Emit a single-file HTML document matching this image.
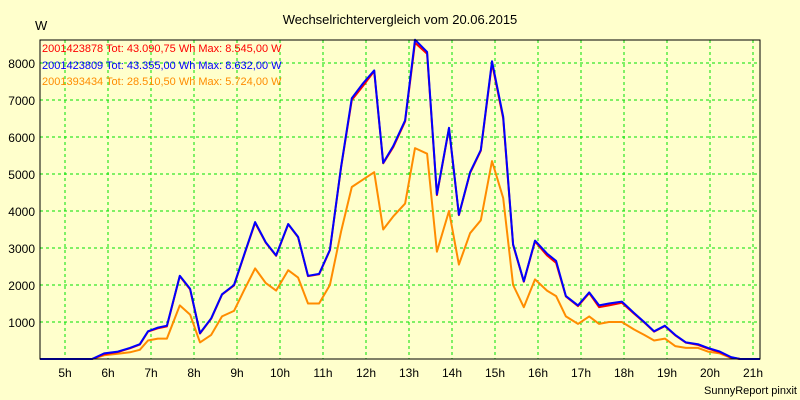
<!DOCTYPE html>
<html><head><meta charset="utf-8"><style>
body{margin:0;background:#ffffcc;}
svg{display:block;font-family:"Liberation Sans",sans-serif;}
</style></head><body>
<svg id="c" width="800" height="400">
<rect width="800" height="400" fill="#ffffcc"/>
<text x="400" y="24" text-anchor="middle" font-size="13">Wechselrichtervergleich vom 20.06.2015</text>
<text x="35" y="30" font-size="13">W</text>
<text x="797" y="394" text-anchor="end" font-size="11">SunnyReport pinxit</text>
<g id="grid"></g><g id="axes"></g><g id="lines"></g>
<rect x="40" y="40" width="720" height="319" fill="none" stroke="#000" stroke-width="1"/>
<g font-size="11">
<text x="42" y="52" fill="#ff0000">2001423878 Tot: 43.090,75 Wh Max: 8.545,00 W</text>
<text x="42" y="69" fill="#0000ff">2001423809 Tot: 43.355,00 Wh Max: 8.632,00 W</text>
<text x="42" y="85" fill="#ff8c00">2001393434 Tot: 28.510,50 Wh Max: 5.724,00 W</text>
</g>
</svg>
<script>
const times=[4.42,5.63,5.91,6.23,6.51,6.74,6.93,7.16,7.37,7.67,7.91,8.14,8.40,8.65,8.93,9.16,9.42,9.67,9.91,10.19,10.42,10.65,10.91,11.16,11.42,11.67,11.93,12.19,12.40,12.63,12.91,13.14,13.42,13.65,13.93,14.16,14.42,14.67,14.93,15.19,15.42,15.67,15.93,16.21,16.42,16.65,16.93,17.19,17.42,17.65,17.95,18.23,18.47,18.70,18.95,19.19,19.44,19.72,19.95,20.23,20.49,20.70,21.16];
const blueVals=[0,0,150,200,300,400,750,850,900,2250,1900,700,1100,1750,2000,2800,3700,3150,2800,3650,3300,2250,2300,2950,5200,7050,7450,7800,5300,5750,6450,8630,8300,4450,6250,3900,5050,5650,8050,6550,3100,2100,3200,2850,2650,1700,1450,1800,1450,1500,1550,1250,1000,750,900,650,450,400,300,200,50,0,0];
const redVals=[0,0,130,190,290,390,740,830,880,2240,1880,690,1090,1740,1990,2790,3680,3140,2790,3640,3290,2240,2290,2940,5180,7000,7380,7780,5290,5720,6420,8545,8250,4430,6230,3890,5030,5630,8000,6500,3080,2090,3180,2800,2600,1690,1430,1780,1400,1450,1520,1230,990,740,890,640,440,380,280,180,40,0,0];
const orangeVals=[0,0,100,140,180,250,500,550,550,1450,1200,450,650,1150,1300,1850,2450,2050,1850,2400,2200,1500,1500,2000,3450,4650,4850,5050,3500,3850,4200,5700,5550,2900,4000,2550,3400,3750,5350,4350,2000,1400,2150,1850,1700,1150,950,1150,950,1000,1000,800,650,500,550,350,300,300,200,150,30,0,0];
const xTicks=[5,6,7,8,9,10,11,12,13,14,15,16,17,18,19,20,21];
const yTicks=[1000,2000,3000,4000,5000,6000,7000,8000];
const NS="http://www.w3.org/2000/svg";
const X=t=>65+(t-5)*43.0;
const Y=v=>359-v*0.037;
function mk(tag,attrs,parent){const e=document.createElementNS(NS,tag);for(const k in attrs)e.setAttribute(k,attrs[k]);parent.appendChild(e);return e;}
const grid=document.getElementById('grid'),axes=document.getElementById('axes'),lines=document.getElementById('lines');
xTicks.forEach(h=>{
  const l=mk('line',{x1:X(h),x2:X(h),y1:40,y2:359,stroke:'#00e000','stroke-dasharray':'3,3'},grid);
  
  
  const t=mk('text',{x:X(h),y:377,'text-anchor':'middle','font-size':'12'},axes);
  t.textContent=h+'h';
  
  
});
yTicks.forEach(v=>{
  const l=mk('line',{x1:40,x2:760,y1:Y(v),y2:Y(v),stroke:'#00e000','stroke-dasharray':'3,3'},grid);
  
  
  const t=mk('text',{x:35,y:Y(v)+5,'text-anchor':'end','font-size':'12'},axes);
  t.textContent=v;
  
  
});
function series(vals,color,name){
  const d=vals.map((v,i)=>(i?'L':'M')+X(times[i]).toFixed(1)+','+Y(v).toFixed(1)).join('');
  const p=mk('path',{d:d,fill:'none',stroke:color,'stroke-width':'2','stroke-linejoin':'round'},lines);
  
  
}
series(orangeVals,'#ff8c00','series-2001393434');
series(redVals,'#ff0000','series-2001423878');
series(blueVals,'#0000ff','series-2001423809');
</script>
</body></html>
